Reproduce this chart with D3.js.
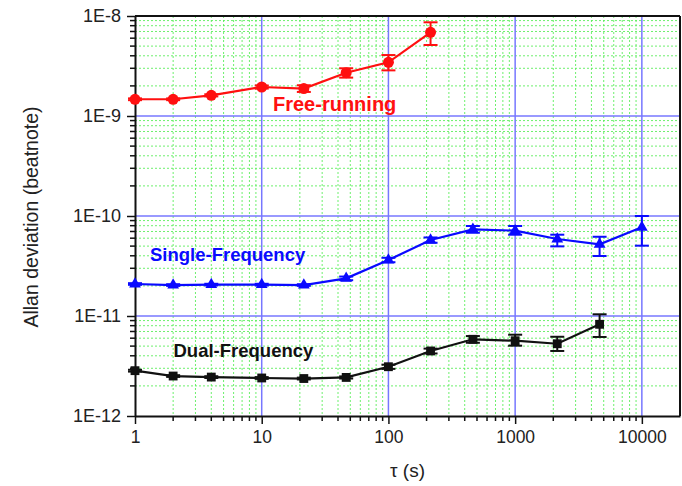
<!DOCTYPE html>
<html>
<head>
<meta charset="utf-8">
<script src="https://cdn.jsdelivr.net/npm/d3@7"></script>
<style>
  html, body { margin: 0; padding: 0; background: #fff; }
  svg { display: block; }
  text { font-family: "Liberation Sans", Arial, sans-serif; }
</style>
</head>
<body>
<svg id="chart" width="682" height="486"></svg>
<script>
// ---- data ----
const taus = [1, 2, 4, 10, 21.5, 46.4, 100, 215, 464, 1000, 2150, 4640, 10000];

const freeTau = taus.slice(0, 8);
const freeVals = [1.47e-9, 1.47e-9, 1.61e-9, 1.95e-9, 1.88e-9, 2.71e-9, 3.44e-9, 6.87e-9];
const freeLo   = [1.44e-9, 1.44e-9, 1.57e-9, 1.88e-9, 1.74e-9, 2.42e-9, 2.86e-9, 5.13e-9];
const freeHi   = [1.50e-9, 1.50e-9, 1.65e-9, 2.02e-9, 2.03e-9, 3.00e-9, 4.07e-9, 8.65e-9];

const singleTau = taus.slice(0, 13);
const singleVals = [2.09e-11, 2.04e-11, 2.06e-11, 2.06e-11, 2.04e-11, 2.38e-11, 3.63e-11, 5.75e-11, 7.36e-11, 7.13e-11, 5.89e-11, 5.21e-11, 7.7e-11];
const singleLo   = [2.05e-11, 2.00e-11, 2.02e-11, 2.02e-11, 2.00e-11, 2.28e-11, 3.45e-11, 5.40e-11, 6.80e-11, 6.50e-11, 4.97e-11, 3.98e-11, 5.05e-11];
const singleHi   = [2.13e-11, 2.08e-11, 2.10e-11, 2.10e-11, 2.08e-11, 2.48e-11, 3.82e-11, 6.10e-11, 7.94e-11, 7.94e-11, 6.50e-11, 6.20e-11, 1.00e-10];

const dualTau = taus.slice(0, 12);
const dualVals = [2.84e-12, 2.51e-12, 2.45e-12, 2.40e-12, 2.37e-12, 2.43e-12, 3.11e-12, 4.47e-12, 5.85e-12, 5.66e-12, 5.28e-12, 8.26e-12];
const dualLo   = [2.78e-12, 2.46e-12, 2.40e-12, 2.35e-12, 2.32e-12, 2.37e-12, 2.96e-12, 4.22e-12, 5.40e-12, 5.05e-12, 4.47e-12, 6.17e-12];
const dualHi   = [2.90e-12, 2.56e-12, 2.50e-12, 2.45e-12, 2.42e-12, 2.49e-12, 3.26e-12, 4.72e-12, 6.30e-12, 6.50e-12, 6.20e-12, 1.04e-11];

const xTickVals = [1, 10, 100, 1000, 10000];
const xTickLabels = ["1", "10", "100", "1000", "10000"];
const yTickVals = [1e-12, 1e-11, 1e-10, 1e-9, 1e-8];
const yTickLabels = ["1E-12", "1E-11", "1E-10", "1E-9", "1E-8"];

const seriesLabels = ["Free-running", "Single-Frequency", "Dual-Frequency"];
const xTitle = "τ (s)";
const yTitle = "Allan deviation (beatnote)";

// ---- layout ----
const L = 135, R = 680, T = 16, B = 416;
const svg = d3.select("#chart");

const x = d3.scaleLog().domain([1, 2e4]).range([L, R]);
const y = d3.scaleLog().domain([1e-12, 1e-8]).range([B, T]);

// minor values
const xMinor = [];
for (let d = 0; d <= 4; d++) for (let m = 2; m <= 9; m++) { const v = m * Math.pow(10, d); if (v < 2e4) xMinor.push(v); }
xMinor.push(2e4 * 0.9999);
const yMinor = [];
for (let d = -12; d < -8; d++) for (let m = 2; m <= 9; m++) yMinor.push(m * Math.pow(10, d));

const grid = svg.append("g");
// minor grid (green dotted)
grid.selectAll(".vmin").data(xMinor.filter(v => v < 2e4 * 0.99)).enter().append("line")
  .attr("x1", d => x(d)).attr("x2", d => x(d)).attr("y1", T).attr("y2", B)
  .attr("stroke", "#55ee55").attr("stroke-width", 1).attr("stroke-dasharray", "2,2").attr("opacity", 0.85);
grid.selectAll(".hmin").data(yMinor).enter().append("line")
  .attr("x1", L).attr("x2", R).attr("y1", d => y(d)).attr("y2", d => y(d))
  .attr("stroke", "#55ee55").attr("stroke-width", 1).attr("stroke-dasharray", "2,2").attr("opacity", 0.85);
// major grid (blue)
grid.selectAll(".vmaj").data(xTickVals.slice(1)).enter().append("line")
  .attr("x1", d => x(d)).attr("x2", d => x(d)).attr("y1", T).attr("y2", B)
  .attr("stroke", "#7777ff").attr("stroke-width", 1.5);
grid.selectAll(".hmaj").data(yTickVals.slice(1, 4)).enter().append("line")
  .attr("x1", L).attr("x2", R).attr("y1", d => y(d)).attr("y2", d => y(d))
  .attr("stroke", "#7777ff").attr("stroke-width", 1.5);

// frame top/right
svg.append("line").attr("x1", L).attr("x2", R).attr("y1", T).attr("y2", T).attr("stroke", "#111").attr("stroke-width", 2);
svg.append("line").attr("x1", R).attr("x2", R).attr("y1", T).attr("y2", B).attr("stroke", "#111").attr("stroke-width", 2);

// axes
const xAxis = d3.axisBottom(x).tickValues(xTickVals).tickFormat((d, i) => xTickLabels[i]).tickSize(8).tickSizeOuter(0);
const gx = svg.append("g").attr("transform", `translate(0,${B})`).call(xAxis);
gx.select(".domain").attr("stroke", "#111").attr("stroke-width", 2);
gx.selectAll(".tick line").attr("stroke", "#111").attr("stroke-width", 1.5);
gx.selectAll(".tick text").attr("font-size", 17.5).attr("fill", "#222").attr("font-family", "Liberation Sans, Arial, sans-serif").attr("dy", "0.95em").attr("y", 10);
gx.selectAll(".mt").data(xMinor.filter(v => v < 2e4 * 0.99)).enter().append("line")
  .attr("x1", d => x(d)).attr("x2", d => x(d)).attr("y1", 0).attr("y2", 5)
  .attr("stroke", "#111").attr("stroke-width", 1.5);

const yAxis = d3.axisLeft(y).tickValues(yTickVals).tickFormat((d, i) => yTickLabels[i]).tickSize(8).tickSizeOuter(0);
const gy = svg.append("g").attr("transform", `translate(${L},0)`).call(yAxis);
gy.select(".domain").attr("stroke", "#111").attr("stroke-width", 2);
gy.selectAll(".tick line").attr("stroke", "#111").attr("stroke-width", 1.5);
gy.selectAll(".tick text").attr("font-size", 18).attr("fill", "#222").attr("font-family", "Liberation Sans, Arial, sans-serif").attr("x", -14);
gy.selectAll(".mt").data(yMinor).enter().append("line")
  .attr("x1", 0).attr("x2", -5).attr("y1", d => y(d)).attr("y2", d => y(d))
  .attr("stroke", "#111").attr("stroke-width", 1.5);

// series
function drawSeries(taus, vals, lo, hi, color, shape) {
  const g = svg.append("g");
  const line = d3.line().x((d, i) => x(taus[i])).y(d => y(d));
  g.append("path").datum(vals).attr("d", line).attr("fill", "none").attr("stroke", color).attr("stroke-width", 2.2);
  const eb = g.selectAll(".eb").data(vals.map((v, i) => i)).enter().append("g");
  eb.append("line").attr("x1", i => x(taus[i])).attr("x2", i => x(taus[i]))
    .attr("y1", i => y(lo[i])).attr("y2", i => y(hi[i])).attr("stroke", color).attr("stroke-width", 2);
  eb.append("line").attr("x1", i => x(taus[i]) - 7).attr("x2", i => x(taus[i]) + 7)
    .attr("y1", i => y(lo[i])).attr("y2", i => y(lo[i])).attr("stroke", color).attr("stroke-width", 2);
  eb.append("line").attr("x1", i => x(taus[i]) - 7).attr("x2", i => x(taus[i]) + 7)
    .attr("y1", i => y(hi[i])).attr("y2", i => y(hi[i])).attr("stroke", color).attr("stroke-width", 2);
  const sym = d3.symbol().type(shape === "tri" ? d3.symbolTriangle : d3.symbolSquare).size(shape === "tri" ? 60 : 78);
  if (shape === "circle") {
    g.selectAll(".m").data(vals).enter().append("circle")
      .attr("cx", (d, i) => x(taus[i])).attr("cy", d => y(d)).attr("r", 5.5).attr("fill", color);
  } else {
    g.selectAll(".m").data(vals).enter().append("path")
      .attr("d", sym).attr("transform", (d, i) => `translate(${x(taus[i])},${y(d)})`).attr("fill", color);
  }
}
drawSeries(freeTau, freeVals, freeLo, freeHi, "#ff1010", "circle");
drawSeries(singleTau, singleVals, singleLo, singleHi, "#0a0aff", "tri");
drawSeries(dualTau, dualVals, dualLo, dualHi, "#111111", "square");

// series labels
svg.append("text").attr("x", 273).attr("y", 111).attr("font-size", 20).attr("font-weight", "bold").attr("fill", "#ff1010").text(seriesLabels[0]);
svg.append("text").attr("x", 150).attr("y", 261).attr("font-size", 18.5).attr("font-weight", "bold").attr("fill", "#0a0aff").text(seriesLabels[1]);
svg.append("text").attr("x", 173.5).attr("y", 357).attr("font-size", 18.5).attr("font-weight", "bold").attr("fill", "#111").text(seriesLabels[2]);

// axis titles
svg.append("text").attr("x", (L + R) / 2).attr("y", 477).attr("text-anchor", "middle").attr("font-size", 19).attr("fill", "#222").text(xTitle);
svg.append("text").attr("transform", "translate(38,217) rotate(-90)").attr("text-anchor", "middle").attr("font-size", 19.5).attr("fill", "#222").text(yTitle);
</script>
</body>
</html>
